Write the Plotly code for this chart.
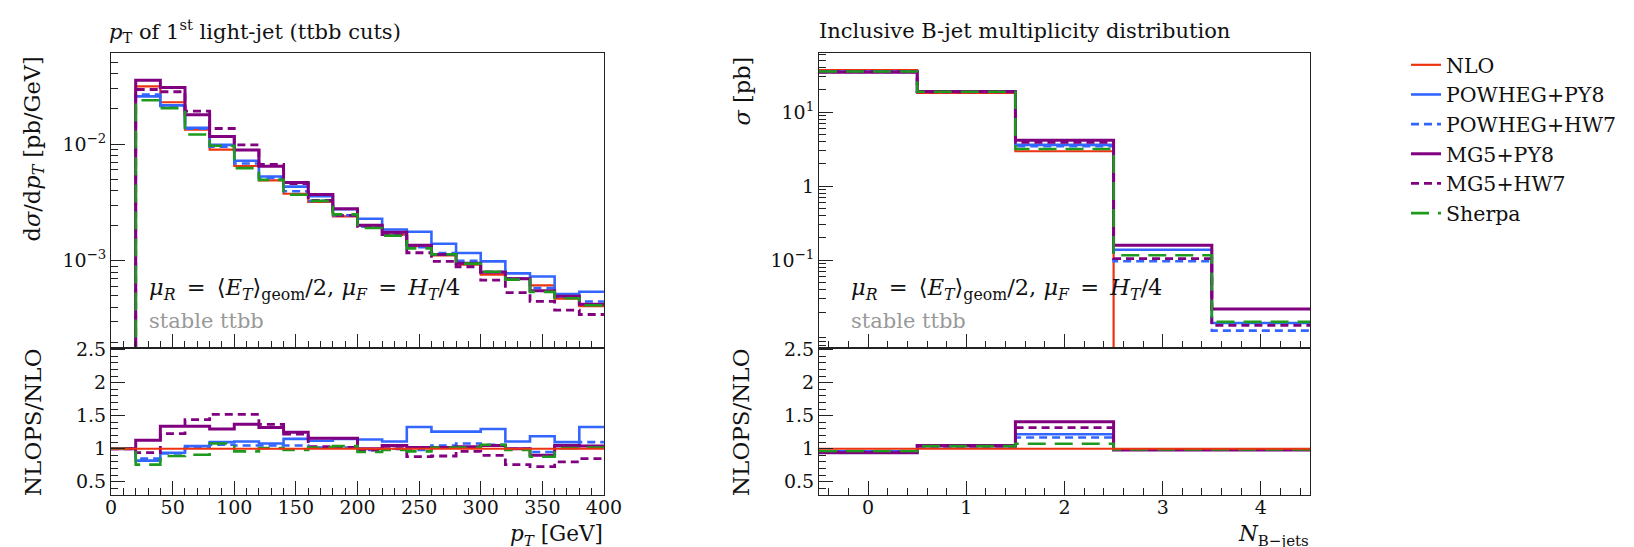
import plotly.graph_objects as go

# ---------------- data: left panel (pT of 1st light jet) ----------------
pt_edges = [0, 20, 40, 60, 80, 100, 120, 140, 160, 180, 200, 220, 240, 260, 280, 300, 320, 340, 360, 380, 400]
nlo_pt = [0, 0.0312, 0.0228, 0.01327, 0.00894, 0.00648, 0.00488, 0.00375, 0.00319, 0.0024, 0.00201,
          0.00167, 0.00133, 0.00111, 0.000925, 0.000759, 0.000702, 0.000615, 0.000472, 0.000407]
ratio_pt_powheg_py8 = [1.0, 0.82, 0.94, 1.04, 1.10, 1.11, 1.08, 1.15, 1.12, 1.15, 1.14, 1.11, 1.33, 1.26, 1.26, 1.30, 1.11, 1.19, 1.10, 1.33]
ratio_pt_powheg_hw7 = [1.0, 0.85, 0.93, 1.02, 1.06, 1.05, 1.05, 1.05, 1.02, 1.02, 0.98, 1.00, 0.98, 1.05, 1.08, 1.06, 1.00, 0.95, 1.04, 1.10]
ratio_pt_mg5_py8 = [1.0, 1.13, 1.34, 1.34, 1.30, 1.37, 1.32, 1.25, 1.16, 1.16, 1.00, 1.05, 1.02, 1.02, 1.03, 1.05, 1.00, 0.90, 1.05, 1.04]
ratio_pt_mg5_hw7 = [1.0, 0.94, 1.23, 1.44, 1.52, 1.52, 1.37, 1.22, 1.03, 1.02, 0.98, 1.00, 0.88, 0.89, 0.96, 0.90, 0.76, 0.73, 0.80, 0.85]
ratio_pt_sherpa = [1.0, 0.76, 0.89, 0.91, 1.08, 0.96, 1.01, 0.98, 1.02, 1.04, 0.95, 0.98, 0.96, 1.02, 1.02, 1.06, 0.98, 0.88, 1.01, 1.02]

# ---------------- data: right panel (B-jet multiplicity) ----------------
nb_edges = [-0.5, 0.5, 1.5, 2.5, 3.5, 4.5]
nb_nlo = [37.0, 18.2, 2.97, 0, 0]
nb_powheg_py8 = [35.5, 18.9, 3.62, 0.139, 0.0142]
nb_powheg_hw7 = [35.5, 18.9, 3.47, 0.0968, 0.0112]
nb_mg5_py8 = [34.6, 19.1, 4.19, 0.160, 0.0220]
nb_mg5_hw7 = [35.2, 18.9, 3.92, 0.105, 0.0132]
nb_sherpa = [35.5, 18.9, 3.19, 0.117, 0.0147]
ratio_nb_powheg_py8 = [0.96, 1.04, 1.22, 0.99, 0.99]
ratio_nb_powheg_hw7 = [0.96, 1.04, 1.17, 0.99, 0.99]
ratio_nb_mg5_py8 = [0.94, 1.05, 1.41, 0.98, 0.98]
ratio_nb_mg5_hw7 = [0.95, 1.04, 1.32, 0.99, 0.99]
ratio_nb_sherpa = [0.965, 1.04, 1.075, 0.99, 0.99]

series_names = ["NLO", "POWHEG+PY8", "POWHEG+HW7", "MG5+PY8", "MG5+HW7", "Sherpa"]

# ---------------- styles ----------------
RED, BLUE, PURPLE, GREEN = "#EE3311", "#3366FF", "#800080", "#1E9A1E"
styles = {
    "NLO": dict(color=RED, width=2.2, dash="solid"),
    "POWHEG+PY8": dict(color=BLUE, width=2.6, dash="solid"),
    "POWHEG+HW7": dict(color=BLUE, width=2.6, dash="8px,5px"),
    "MG5+PY8": dict(color=PURPLE, width=3.0, dash="solid"),
    "MG5+HW7": dict(color=PURPLE, width=2.8, dash="8px,5px"),
    "Sherpa": dict(color=GREEN, width=2.6, dash="18px,9px"),
}
W, H = 1634, 547
FONT = "DejaVu Serif"
TINY = 1e-9


def step(edges, vals):
    ys = [v if v > 0 else TINY for v in vals]
    last = len(vals)
    while last > 0 and vals[last - 1] == 0:
        last -= 1
    if last < len(vals):
        xs = list(edges[:last + 1])
        yy = ys[:last] + [TINY]
    else:
        xs = list(edges)
        yy = ys + [ys[-1]]
    return xs, yy


fig = go.Figure()

left_main = {
    "POWHEG+PY8": [n * r for n, r in zip(nlo_pt, ratio_pt_powheg_py8)],
    "POWHEG+HW7": [n * r for n, r in zip(nlo_pt, ratio_pt_powheg_hw7)],
    "MG5+PY8": [n * r for n, r in zip(nlo_pt, ratio_pt_mg5_py8)],
    "MG5+HW7": [n * r for n, r in zip(nlo_pt, ratio_pt_mg5_hw7)],
    "Sherpa": [n * r for n, r in zip(nlo_pt, ratio_pt_sherpa)],
    "NLO": nlo_pt,
}
left_ratio = {
    "POWHEG+PY8": ratio_pt_powheg_py8, "POWHEG+HW7": ratio_pt_powheg_hw7,
    "MG5+PY8": ratio_pt_mg5_py8, "MG5+HW7": ratio_pt_mg5_hw7, "Sherpa": ratio_pt_sherpa,
    "NLO": [1.0] * len(nlo_pt),
}
right_main = {
    "POWHEG+PY8": nb_powheg_py8, "POWHEG+HW7": nb_powheg_hw7, "MG5+PY8": nb_mg5_py8,
    "MG5+HW7": nb_mg5_hw7, "Sherpa": nb_sherpa, "NLO": nb_nlo,
}
right_ratio = {
    "POWHEG+PY8": ratio_nb_powheg_py8, "POWHEG+HW7": ratio_nb_powheg_hw7,
    "MG5+PY8": ratio_nb_mg5_py8, "MG5+HW7": ratio_nb_mg5_hw7, "Sherpa": ratio_nb_sherpa,
    "NLO": [1.0] * len(nb_nlo),
}


def line_of(name):
    st = styles[name]
    return dict(color=st["color"], width=st["width"], dash=st["dash"], shape="hv")


# main panels: reference first, NLOPS curves on top
for name in series_names:
    rank = series_names.index(name) + 1
    xs, ys = step(pt_edges, left_main[name])
    fig.add_trace(go.Scatter(x=xs, y=ys, mode="lines", line=line_of(name), name=name, legendrank=rank,
                             showlegend=True, xaxis="x", yaxis="y", hoverinfo="skip"))
    xs, ys = step(nb_edges, right_main[name])
    fig.add_trace(go.Scatter(x=xs, y=ys, mode="lines", line=line_of(name), name=name, showlegend=False,
                             xaxis="x3", yaxis="y3", hoverinfo="skip"))
# ratio panels: reference line drawn last
for name in series_names[1:] + series_names[:1]:
    xs, ys = step(pt_edges, left_ratio[name])
    fig.add_trace(go.Scatter(x=xs, y=ys, mode="lines", line=line_of(name), name=name, showlegend=False,
                             xaxis="x2", yaxis="y2", hoverinfo="skip"))
    xs, ys = step(nb_edges, right_ratio[name])
    fig.add_trace(go.Scatter(x=xs, y=ys, mode="lines", line=line_of(name), name=name, showlegend=False,
                             xaxis="x4", yaxis="y4", hoverinfo="skip"))


# ---------------- layout ----------------
def px_x(p):
    return p / W


def px_y(p):
    return 1 - p / H


LX = [px_x(103), px_x(596)]
RX = [px_x(811), px_x(1302)]
MAIN_Y = [px_y(340), px_y(45)]
RAT_Y = [px_y(487), px_y(340)]

axcol = "#222222"
tickfont = dict(family=FONT, size=19, color="#111111")
common = dict(showline=True, linecolor=axcol, linewidth=1, mirror=True, ticks="inside",
              ticklen=14, tickwidth=1, tickcolor=axcol, showgrid=False, zeroline=False,
              tickfont=tickfont)
minor_common = dict(ticks="inside", ticklen=7, tickwidth=1, tickcolor=axcol, showgrid=False)

pt_major = [0, 50, 100, 150, 200, 250, 300, 350, 400]
pt_minor = list(range(0, 401, 10))
nb_major = [0, 1, 2, 3, 4]
nb_minor = [round(-0.4 + 0.2 * i, 2) for i in range(25)]
ratio_major = [0.5, 1, 1.5, 2, 2.5]
ratio_text = ["0.5", "1", "1.5", "2", "2.5"]
ratio_minor = [round(0.3 + 0.1 * i, 2) for i in range(23)]
left_log_major = [1e-3, 1e-2]
left_log_text = ["10<sup>−3</sup>", "10<sup>−2</sup>"]
right_log_major = [0.1, 1, 10]
right_log_text = ["10<sup>−1</sup>", "1", "10<sup>1</sup>"]
left_log_minor = [m * 10.0 ** e for e in (-4, -3, -2, -1) for m in range(2, 10)]
right_log_minor = [m * 10.0 ** e for e in (-3, -2, -1, 0, 1) for m in range(2, 10)]

fig.update_layout(
    width=W, height=H, margin=dict(l=0, r=0, t=0, b=0, autoexpand=False),
    paper_bgcolor="white", plot_bgcolor="white",
    font=dict(family=FONT, size=20, color="#111111"),
    xaxis=dict(common, domain=LX, anchor="y", range=[-0.05, 400.05], tickmode="array",
               tickvals=pt_major, showticklabels=False,
               minor=dict(minor_common, tickmode="array", tickvals=pt_minor)),
    yaxis=dict(common, domain=MAIN_Y, anchor="x", type="log", range=[-3.748, -1.22],
               tickmode="array", tickvals=left_log_major, ticktext=left_log_text,
               minor=dict(minor_common, tickmode="array", tickvals=left_log_minor)),
    xaxis2=dict(common, domain=LX, anchor="y2", range=[-0.05, 400.05], tickmode="array",
                tickvals=pt_major, ticktext=[str(v) for v in pt_major],
                minor=dict(minor_common, tickmode="array", tickvals=pt_minor)),
    yaxis2=dict(common, domain=RAT_Y, anchor="x2", range=[0.3, 2.525], tickmode="array",
                tickvals=ratio_major, ticktext=ratio_text,
                minor=dict(minor_common, tickmode="array", tickvals=ratio_minor)),
    xaxis3=dict(common, domain=RX, anchor="y3", range=[-0.5, 4.5], tickmode="array",
                tickvals=nb_major, showticklabels=False,
                minor=dict(minor_common, tickmode="array", tickvals=nb_minor)),
    yaxis3=dict(common, domain=MAIN_Y, anchor="x3", type="log", range=[-2.185, 1.80],
                tickmode="array", tickvals=right_log_major, ticktext=right_log_text,
                minor=dict(minor_common, tickmode="array", tickvals=right_log_minor)),
    xaxis4=dict(common, domain=RX, anchor="y4", range=[-0.5, 4.5], tickmode="array",
                tickvals=nb_major, ticktext=[str(v) for v in nb_major],
                minor=dict(minor_common, tickmode="array", tickvals=nb_minor)),
    yaxis4=dict(common, domain=RAT_Y, anchor="x4", range=[0.3, 2.525], tickmode="array",
                tickvals=ratio_major, ticktext=ratio_text,
                minor=dict(minor_common, tickmode="array", tickvals=ratio_minor)),
    legend=dict(x=px_x(1398), y=px_y(37), xanchor="left", yanchor="top",
                font=dict(family=FONT, size=20.5, color="#111111"), bgcolor="rgba(0,0,0,0)",
                tracegroupgap=0, itemwidth=30),
    showlegend=True,
)

# pull the x tick labels slightly closer to the axis (if supported)
try:
    fig.update_layout(xaxis2=dict(ticklabelstandoff=-5), xaxis4=dict(ticklabelstandoff=-5))
except Exception:
    pass

ann = []


def text(x, y, s, size=21, xanchor="left", yanchor="middle", angle=0, color="#111111"):
    ann.append(dict(x=px_x(x), y=px_y(y), xref="paper", yref="paper", text=s, showarrow=False,
                    xanchor=xanchor, yanchor=yanchor, textangle=angle,
                    font=dict(family=FONT, size=size, color=color)))


# titles
text(99, 23, "<i>p</i><sub>T</sub> of 1<sup>st</sup> light-jet (ttbb cuts)", size=21)
text(809, 23, "Inclusive B-jet multiplicity distribution", size=21)
# axis labels
ylab_main = "d<i>σ</i>/d<i>p</i><sub><i>T</i></sub> [pb/GeV]"
text(25, 47, ylab_main, size=22.5, xanchor="center", yanchor="top", angle=-90)
text(25, 414, "NLOPS/NLO", size=23, xanchor="center", yanchor="middle", angle=-90)
text(733, 47, "<i>σ</i> [pb]", size=22.5, xanchor="center", yanchor="top", angle=-90)
text(733, 414, "NLOPS/NLO", size=23, xanchor="center", yanchor="middle", angle=-90)
text(597, 544, "<i>p</i><sub><i>T</i></sub> [GeV]", size=21.5, xanchor="right", yanchor="bottom")
text(1303, 544, "<i>N</i><sub>B−jets</sub>", size=21.5, xanchor="right", yanchor="bottom")
# in-plot labels
scale_txt = ("<i>μ</i><sub><i>R</i></sub>\u2002=\u2002⟨<i>E</i><sub><i>T</i></sub>⟩<sub>geom</sub>/2, "
             "<i>μ</i><sub><i>F</i></sub>\u2002=\u2002<i>H</i><sub><i>T</i></sub>/4")
text(139, 281, scale_txt, size=22.5)
text(139, 313, "stable ttbb", size=21, color="#999999")
text(841, 281, scale_txt, size=22.5)
text(841, 313, "stable ttbb", size=21, color="#999999")

fig.update_layout(annotations=ann)
fig.write_html("out.html")
